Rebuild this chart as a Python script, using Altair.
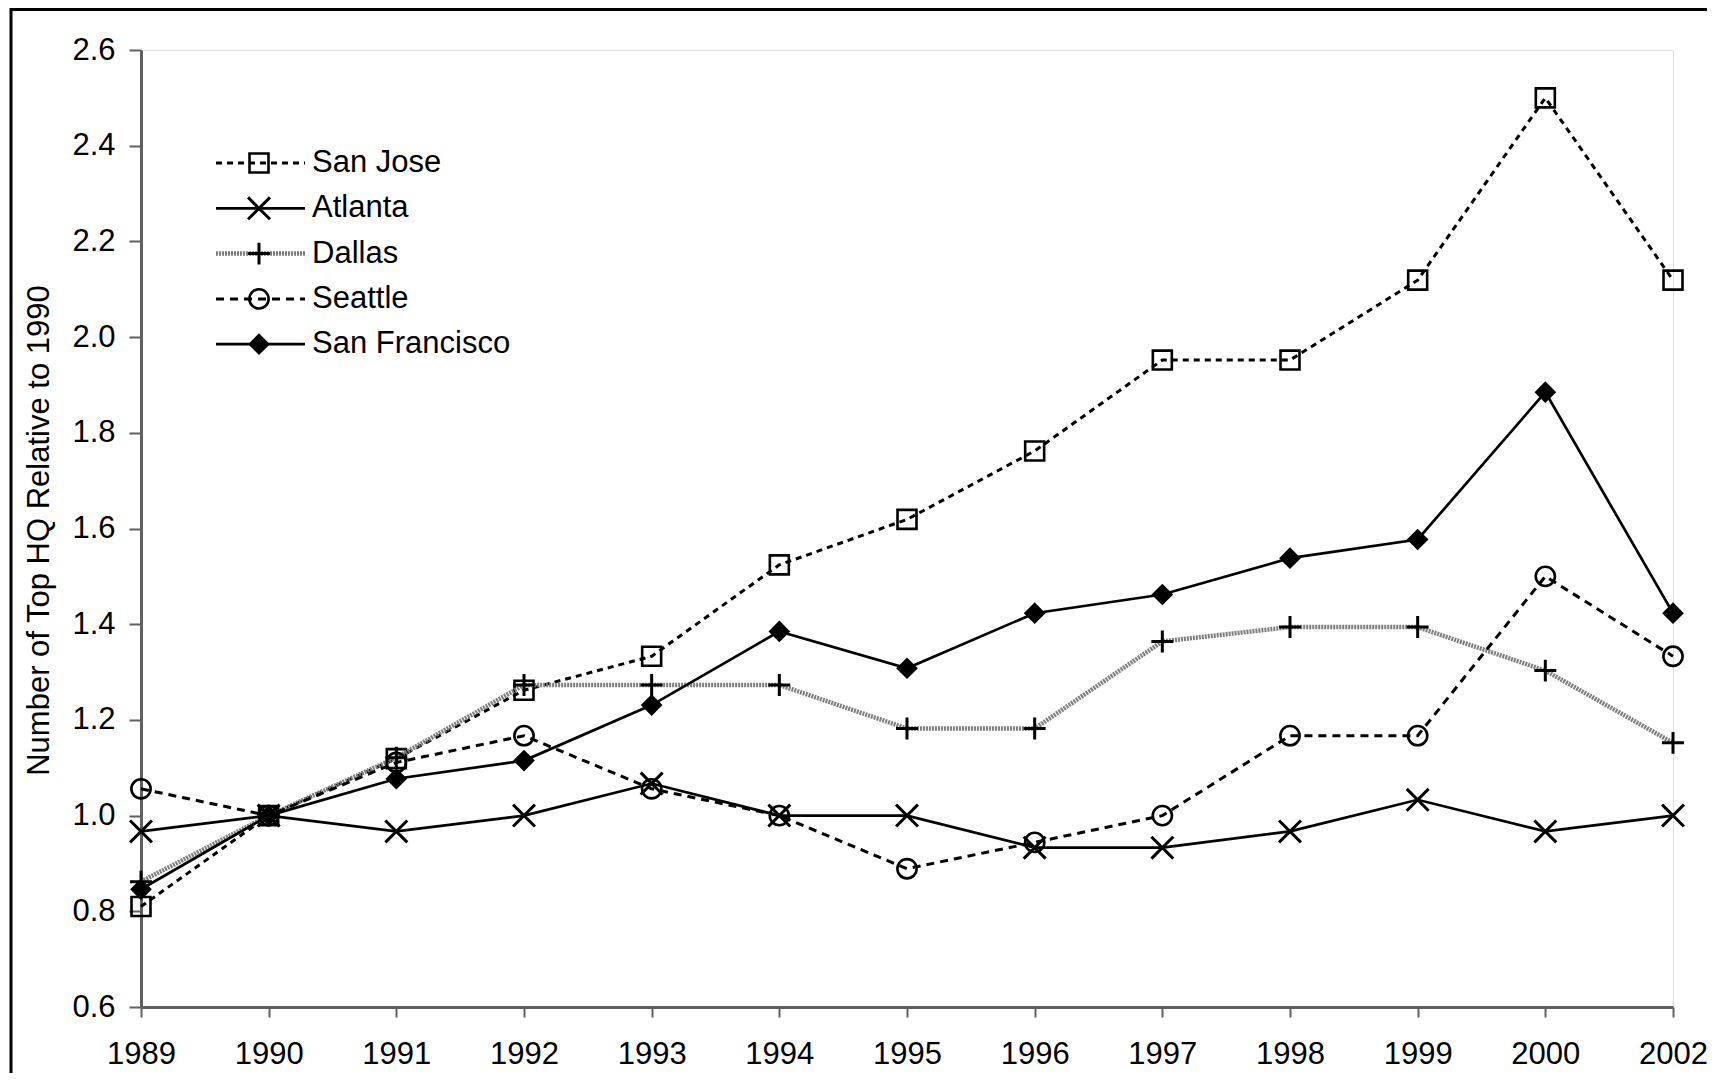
import altair as alt
import pandas as pd

# ---- data ----
years = ["1989", "1990", "1991", "1992", "1993", "1994", "1995",
         "1996", "1997", "1998", "1999", "2000", "2002"]
series_names = ["San Jose", "Atlanta", "Dallas", "Seattle", "San Francisco"]

san_jose = [0.810, 1.000, 1.119, 1.262, 1.333, 1.524, 1.619, 1.762, 1.952, 1.952, 2.119, 2.500, 2.119]
atlanta = [0.967, 1.000, 0.967, 1.000, 1.067, 1.000, 1.000, 0.933, 0.933, 0.967, 1.033, 0.967, 1.000]
dallas = [0.862, 1.000, 1.121, 1.273, 1.273, 1.273, 1.182, 1.182, 1.364, 1.394, 1.394, 1.303, 1.152]
seattle = [1.056, 1.000, 1.111, 1.167, 1.056, 1.000, 0.889, 0.944, 1.000, 1.167, 1.167, 1.500, 1.333]
san_francisco = [0.846, 1.000, 1.077, 1.115, 1.231, 1.385, 1.308, 1.423, 1.462, 1.538, 1.577, 1.885, 1.423]

y_ticks = [0.6, 0.8, 1.0, 1.2, 1.4, 1.6, 1.8, 2.0, 2.2, 2.4, 2.6]
y_title = "Number of Top HQ Relative to 1990"

series_values = {
    "San Jose": san_jose,
    "Atlanta": atlanta,
    "Dallas": dallas,
    "Seattle": seattle,
    "San Francisco": san_francisco,
}

# ---- styles ----
X_PATH = "M-1,-1L1,1M-1,1L1,-1"
PLUS_PATH = "M-1,0L1,0M0,-1L0,1"
styles = {
    "San Jose": dict(color="black", dash=[6, 5], width=3, shape="square", filled=False, size=360, pw=2.6),
    "Atlanta": dict(color="black", dash=None, width=2.7, shape=X_PATH, filled=False, size=480, pw=3),
    "Dallas": dict(color="#7c7c7c", dash=[2, 1], width=4.5, shape=PLUS_PATH, filled=False, size=480, pw=3),
    "Seattle": dict(color="black", dash=[8, 6], width=3, shape="circle", filled=False, size=370, pw=2.6),
    "San Francisco": dict(color="black", dash=None, width=2.7, shape="diamond", filled=True, size=470, pw=1),
}

FONT = "Liberation Sans"
W, H = 1532, 957

x_axis = alt.Axis(
    labelAngle=0, labelFont=FONT, labelFontSize=31, labelColor="black",
    labelPadding=22, tickSize=10, tickColor="#606060", tickWidth=2,
    domainColor="#606060", domainWidth=3, grid=False, title=None,
)
y_axis = alt.Axis(
    values=y_ticks, format=".1f", labelFont=FONT, labelFontSize=31, labelColor="black",
    labelPadding=14, tickSize=12, tickColor="#606060", tickWidth=2,
    domainColor="#606060", domainWidth=3, grid=False,
    title=y_title, titleFont=FONT, titleFontSize=31, titleFontWeight="normal",
    titleColor="black", titleAngle=270, titleBaseline="alphabetic",
    titleX=-93, titleY=480,
)

x_enc = alt.X("year:O", sort=years,
              scale=alt.Scale(type="point", padding=0, domain=years), axis=x_axis)
y_enc = alt.Y("value:Q", scale=alt.Scale(domain=[0.6, 2.6], nice=False, zero=False), axis=y_axis)

layers = []

# frame around whole figure
frame = alt.Chart(pd.DataFrame({"a": [0]})).mark_rect(
    fillOpacity=0, stroke="black", strokeWidth=3
).encode(x=alt.value(-130), x2=alt.value(W + 200), y=alt.value(-40.5), y2=alt.value(H + 200))
layers.append(frame)

for name in series_names:
    st = styles[name]
    df = pd.DataFrame({"year": years, "value": series_values[name], "series": name})
    line_kw = dict(color=st["color"], strokeWidth=st["width"])
    if st["dash"]:
        line_kw["strokeDash"] = st["dash"]
    line = alt.Chart(df).mark_line(**line_kw).encode(x=x_enc, y=y_enc)
    pts = alt.Chart(df).mark_point(
        shape=st["shape"], size=st["size"], filled=st["filled"],
        color="black", strokeWidth=st["pw"], opacity=1
    ).encode(x=x_enc, y=y_enc)
    layers += [line, pts]

# manual legend (line + marker + label), inside plot area
LEG_TOP, LEG_STEP = 113, 45.3
for i, name in enumerate(series_names):
    st = styles[name]
    ly = LEG_TOP + i * LEG_STEP
    ldf = pd.DataFrame({"series": [name]})
    rule_kw = dict(color=st["color"], strokeWidth=st["width"])
    if st["dash"]:
        rule_kw["strokeDash"] = st["dash"]
    seg = alt.Chart(ldf).mark_rule(**rule_kw).encode(
        x=alt.value(75), x2=alt.value(164), y=alt.value(ly))
    mk = alt.Chart(ldf).mark_point(
        shape=st["shape"], size=st["size"], filled=st["filled"],
        color="black", strokeWidth=st["pw"], opacity=1
    ).encode(x=alt.value(118), y=alt.value(ly))
    tx = alt.Chart(ldf).mark_text(
        align="left", baseline="middle", font=FONT, fontSize=31, color="black"
    ).encode(x=alt.value(171), y=alt.value(ly), text="series:N")
    layers += [seg, mk, tx]

chart = alt.layer(*layers).properties(
    width=W, height=H,
    padding={"left": 133, "top": 42, "right": 34, "bottom": 66},
    autosize=alt.AutoSizeParams(type="none"),
).configure_view(stroke="#8c8c8c", strokeWidth=3).configure(background="white")

chart.save("out.html", embed_options={"renderer": "svg", "actions": False})
